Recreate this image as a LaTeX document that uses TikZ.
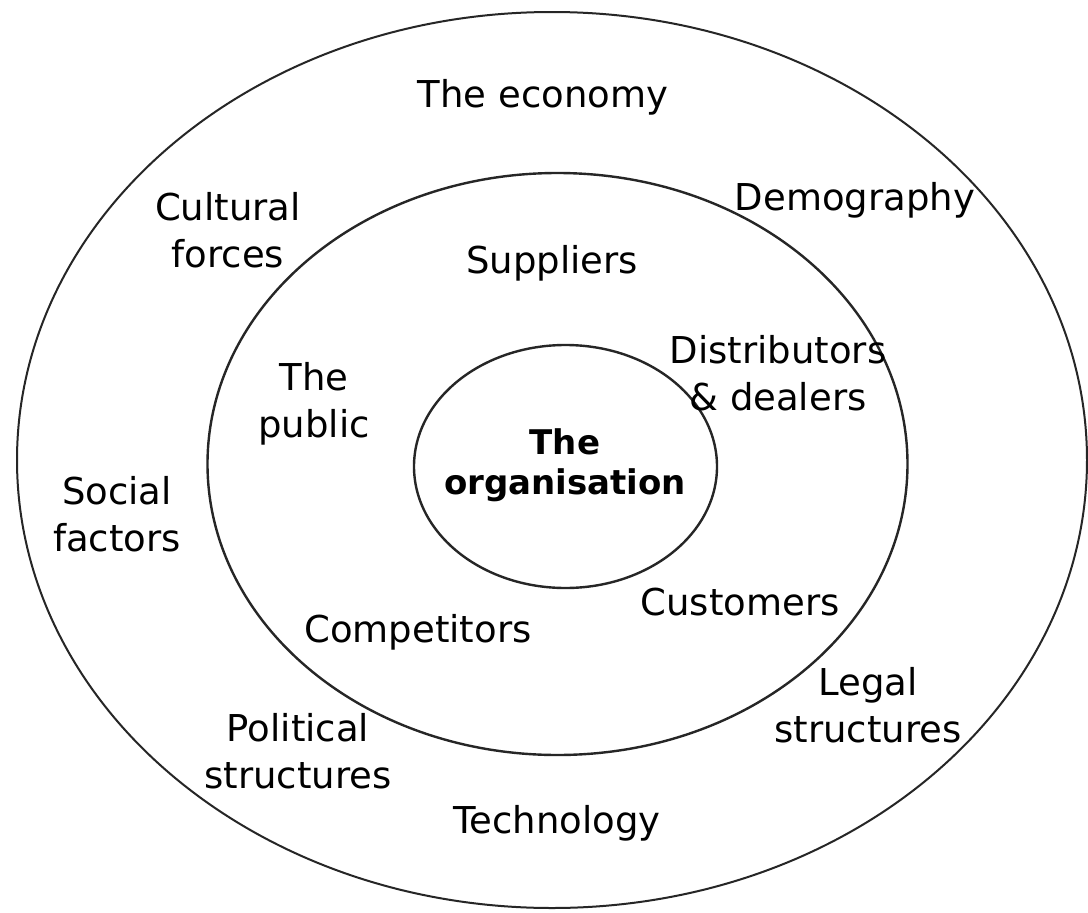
\documentclass[tikz,border=0pt]{standalone}
\usepackage{fontspec}
\setmainfont{DejaVu Sans}
\begin{document}
\begin{tikzpicture}[x=1pt,y=-1pt,
  lbl/.style={align=center,inner sep=0pt,font=\fontsize{37}{47}\selectfont},
  ring/.style={draw=black!85,line width=2.4pt}]
\useasboundingbox (0,0) rectangle (1088,913);
\fill[white] (0,0) rectangle (1088,913);
\draw[ring,line width=2pt] (552,460) ellipse [x radius=535, y radius=448];
\draw[ring] (557.5,464) ellipse [x radius=350, y radius=291];
\draw[ring] (565.5,466.5) ellipse [x radius=151.5, y radius=121.5];
\node[lbl] (eco) at (543,97) {The economy};
\node[lbl] (cul) at (228,230) {Cultural\\forces};
\node[lbl] (dem) at (855,200) {Demography};
\node[lbl] (sup) at (552,263) {Suppliers};
\node[lbl] (dis) at (778,373) {Distributors\\\& dealers};
\node[lbl] (pub) at (314,404) {The\\public};
\node[lbl,font=\fontsize{34}{40}\selectfont\bfseries] (org) at (565,465) {The\\organisation};
\node[lbl] (soc) at (117,514) {Social\\factors};
\node[lbl] (cus) at (740,602) {Customers};
\node[lbl] (com) at (418,632) {Competitors};
\node[lbl] (leg) at (868,705) {Legal\\structures};
\node[lbl] (pol) at (298,751) {Political\\structures};
\node[lbl] (tec) at (557,823) {Technology};
\end{tikzpicture}
\end{document}
